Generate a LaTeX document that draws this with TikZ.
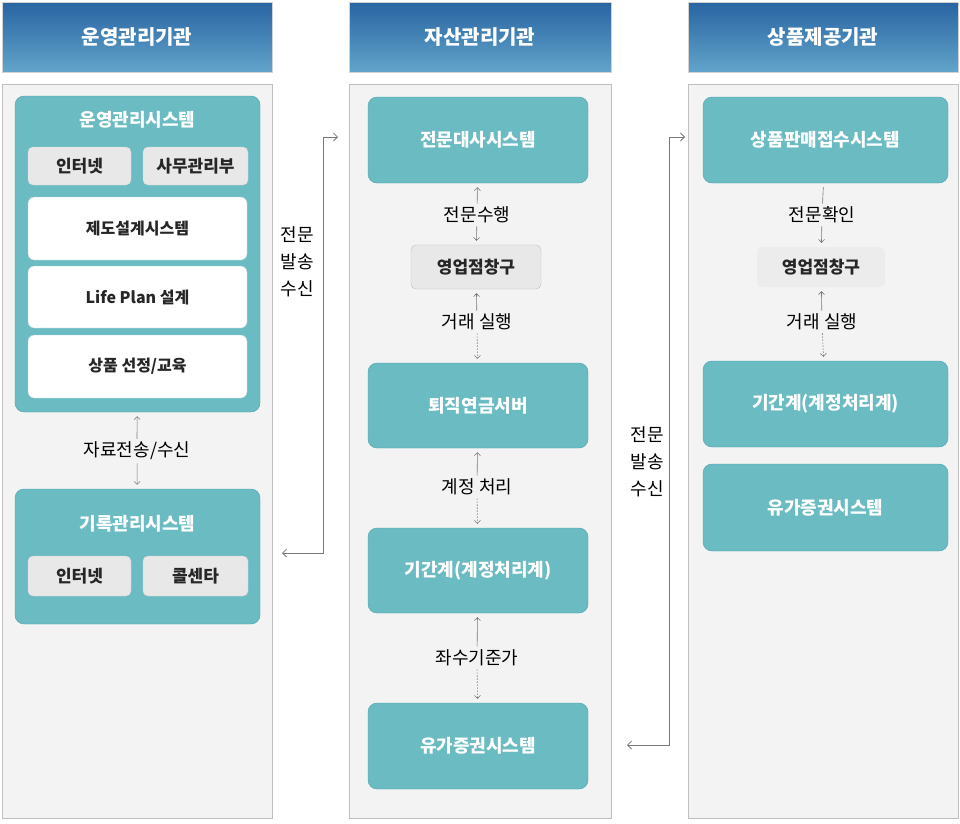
\documentclass[tikz,border=0pt]{standalone}
\usepackage{fontspec}
\setmainfont{Noto Sans CJK KR}
\usepackage{tikz}
\usetikzlibrary{arrows.meta, positioning}
\definecolor{hdtop}{RGB}{40,100,162}
\definecolor{hdbot}{RGB}{98,164,202}
\definecolor{tealbox}{RGB}{107,187,194}
\definecolor{tealline}{RGB}{74,160,170}
\definecolor{panelbg}{RGB}{243,243,243}
\definecolor{linkgray}{RGB}{120,120,120}

\begin{document}
\begin{tikzpicture}[x=1pt, y=-1pt,
    head/.style={rectangle, draw=gray!35, top color=hdtop, bottom color=hdbot,
                 minimum height=70pt, inner sep=0pt, text=white,
                 font=\fontsize{20}{23}\selectfont\bfseries},
    panel/.style={rectangle, draw=gray!50, line width=1pt, fill=panelbg,
                  minimum height=734pt, inner sep=0pt},
    sysbox/.style={rectangle, draw=tealline, fill=tealbox, rounded corners=9pt,
                   inner sep=0pt, text=white, font=\fontsize{18}{21}\selectfont\bfseries},
    systitle/.style={text=white, inner sep=1pt, font=\fontsize{18}{21}\selectfont\bfseries},
    subbox/.style={rectangle, draw=gray!35, fill=gray!18, rounded corners=5pt,
                   inner sep=0pt, text=black!85, font=\fontsize{17}{20}\selectfont\bfseries},
    whitebox/.style={rectangle, draw=tealline!50, fill=white, rounded corners=6pt,
                     inner sep=0pt, minimum width=219pt, text=black!85,
                     font=\fontsize{16}{19}\selectfont\bfseries},
    lbl/.style={inner sep=0pt, font=\fontsize{18}{21}\selectfont},
    arr/.style={-{Straight Barb[length=3pt, width=6pt]}, linkgray, line width=0.6pt,
                shorten <=3pt, shorten >=4pt},
    darr/.style={arr, dash pattern=on 1.5pt off 1.5pt},
    link/.style={{Straight Barb[length=4pt, width=8pt]}-{Straight Barb[length=4pt, width=8pt]},
                 linkgray, line width=0.8pt},
  ]
  \useasboundingbox (0,0) rectangle (960,823);

  % headers and panels
  \node[head, minimum width=270pt] (h1) at (137,37) {운영관리기관};
  \node[head, minimum width=262pt] (h2) at (480,37) {자산관리기관};
  \node[head, minimum width=270pt] (h3) at (823,37) {상품제공기관};
  \node[panel, minimum width=270pt] (p1) at (137,451) {};
  \node[panel, minimum width=262pt] (p2) at (480,451) {};
  \node[panel, minimum width=270pt] (p3) at (823,451) {};

  % 운영관리기관
  \node[sysbox, minimum width=245pt, minimum height=316pt] (op) at (137.5,254) {};
  \node[systitle] (optitle) at (137.5,120) {운영관리시스템};
  \node[subbox, minimum width=103pt, minimum height=38pt] (net1) at (79.5,166) {인터넷};
  \node[subbox, minimum width=105pt, minimum height=38pt] (samu) at (195.5,166) {사무관리부};
  \node[whitebox, minimum height=63pt] (jedo) at (137.5,228.5) {제도설계시스템};
  \node[whitebox, minimum height=62pt] (life) at (137.5,297) {Life Plan 설계};
  \node[whitebox, minimum height=63pt] (edu) at (137.5,366.5) {상품 선정/교육};
  \node[lbl] (trans) at (137,451) {자료전송/수신};
  \node[sysbox, minimum width=245pt, minimum height=135pt] (rec) at (137.5,556.5) {};
  \node[systitle] (rectitle) at (137.5,524) {기록관리시스템};
  \node[subbox, minimum width=103pt, minimum height=40pt] (net2) at (79.5,576) {인터넷};
  \node[subbox, minimum width=105pt, minimum height=40pt] (call) at (195.5,576) {콜센타};
  \draw[arr] (trans) -- (op);
  \draw[arr] (trans) -- (rec);

  % 자산관리기관
  \node[sysbox, minimum width=220pt, minimum height=86pt] (dasa) at (478,140) {전문대사시스템};
  \node[lbl] (run1) at (477,215) {전문수행};
  \node[subbox, draw=gray!50, minimum width=130pt, minimum height=44pt] (win1) at (476,267) {영업점창구};
  \node[lbl] (deal1) at (477,322) {거래 실행};
  \node[sysbox, minimum width=220pt, minimum height=85pt] (server) at (478,405.5) {퇴직연금서버};
  \node[lbl] (acct) at (477,487) {계정 처리};
  \node[sysbox, minimum width=220pt, minimum height=85pt] (core1) at (478,570.5) {기간계(계정처리계)};
  \node[lbl] (nav) at (477,658) {좌수기준가};
  \node[sysbox, minimum width=220pt, minimum height=86pt] (sec1) at (478,746) {유가증권시스템};
  \draw[arr] (run1) -- (dasa);
  \draw[arr] (run1) -- (win1);
  \draw[arr] (deal1) -- (win1);
  \draw[darr] (deal1) -- (server);
  \draw[arr] (acct) -- (server);
  \draw[darr] (acct) -- (core1);
  \draw[arr] (nav) -- (core1);
  \draw[darr] (nav) -- (sec1);

  % 상품제공기관
  \node[sysbox, minimum width=245pt, minimum height=86pt] (sale) at (825.5,140) {상품판매접수시스템};
  \node[lbl] (check) at (822,215) {전문확인};
  \node[subbox, draw=none, fill=gray!15, minimum width=128pt, minimum height=40pt] (win2) at (821,267) {영업점창구};
  \node[lbl] (deal2) at (822,322) {거래 실행};
  \node[sysbox, minimum width=245pt, minimum height=86pt] (core2) at (825.5,404) {기간계(계정처리계)};
  \node[sysbox, minimum width=245pt, minimum height=87pt] (sec2) at (825.5,507.5) {유가증권시스템};
  \draw[arr, -] (check) -- (sale);
  \draw[arr] (check) -- (win2);
  \draw[arr] (deal2) -- (win2);
  \draw[darr] (deal2) -- (core2);

  % links between panels
  \node[lbl, font=\fontsize{18}{27}\selectfont, align=center] (msg1) at (297,262) {전문\\발송\\수신};
  \node[lbl, font=\fontsize{18}{27}\selectfont, align=center] (msg2) at (647,462) {전문\\발송\\수신};
  \coordinate (m1a) at (282,553);
  \coordinate (m1b) at (338,137);
  \coordinate (m2a) at (627,745);
  \coordinate (m2b) at (685,137);
  \draw[link] (m1a) -- (323,553) |- (m1b);
  \draw[link] (m2a) -- (669,745) |- (m2b);
\end{tikzpicture}
\end{document}
